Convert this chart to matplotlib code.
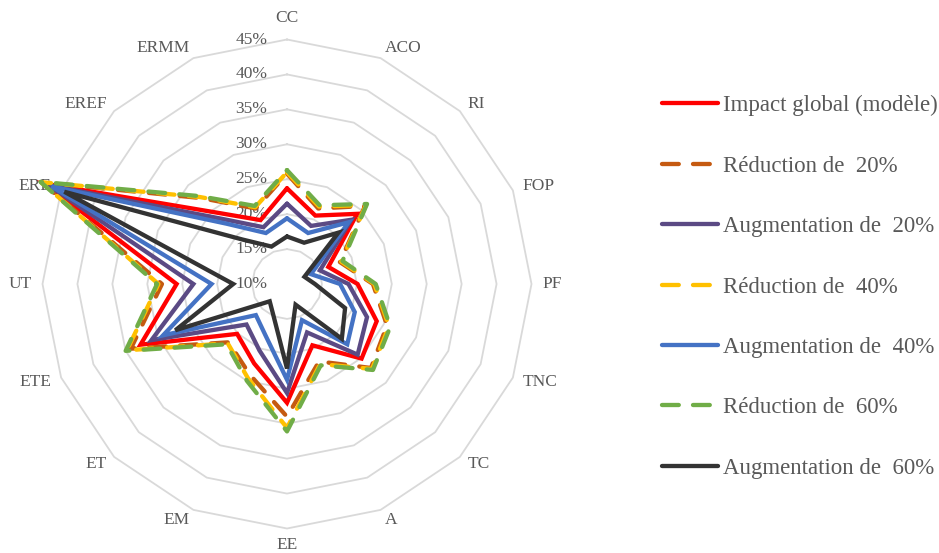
import numpy as np
import matplotlib
matplotlib.use("Agg")
import matplotlib.pyplot as plt

plt.rcParams['font.family'] = ['Liberation Serif', 'DejaVu Serif']

categories = ["CC", "ACO", "RI", "FOP", "PF", "TNC", "TC", "A", "EE",
              "EM", "ET", "ETE", "UT", "ERE", "EREF", "ERMM"]

impact = [23.7, 20.6, 24.2, 16.4, 20.1, 23.9, 25.1, 19.5, 27.0, 22.3, 20.1, 32.7, 25.8, 47.5, 24.5, 19.9]
red20 = [25.8, 21.7, 25.8, 18.2, 22.3, 25.5, 27.0, 22.0, 29.0, 24.0, 21.8, 34.2, 27.9, 48.0, 27.4, 21.7]
aug20 = [21.5, 19.0, 23.0, 15.1, 18.8, 22.4, 24.3, 17.5, 25.6, 20.3, 18.2, 31.0, 23.4, 47.0, 23.2, 18.8]
red40 = [26.0, 22.0, 26.0, 18.4, 22.5, 25.8, 27.2, 22.4, 30.6, 24.6, 22.0, 34.8, 28.4, 48.1, 27.6, 21.9]
aug40 = [19.4, 17.9, 22.5, 13.7, 17.6, 20.5, 22.2, 15.6, 23.7, 18.0, 16.3, 29.2, 20.8, 46.5, 22.2, 17.9]
red60 = [26.3, 22.2, 26.2, 18.6, 22.7, 26.0, 27.4, 22.6, 31.1, 25.0, 22.2, 35.0, 28.6, 48.2, 27.8, 22.1]
aug60 = [16.8, 16.4, 20.4, 12.7, 14.0, 19.0, 21.1, 13.2, 22.1, 15.0, 13.5, 27.3, 17.7, 44.5, 19.0, 15.8]

series_labels = ["Impact global (modèle)", "Réduction de  20%", "Augmentation de  20%",
                 "Réduction de  40%", "Augmentation de  40%", "Réduction de  60%",
                 "Augmentation de  60%"]
series_values = [impact, red20, aug20, red40, aug40, red60, aug60]
series_colors = ["#FF0000", "#C55A11", "#5B4A84", "#FFC000", "#4472C4", "#70AD47", "#333333"]
series_dashed = [False, True, False, True, False, True, False]

radial_ticks = [10, 15, 20, 25, 30, 35, 40, 45]
radial_labels = ["10%", "15%", "20%", "25%", "30%", "35%", "40%", "45%"]

W, H = 939, 553
fig = plt.figure(figsize=(W / 100, H / 100), dpi=100)
cx, cy, R = 287, 284, 244.5
ax = fig.add_axes([(cx - R) / W, (H - cy - R) / H, 2 * R / W, 2 * R / H], projection='polar')
ax.set_theta_offset(np.pi / 2)
ax.set_theta_direction(-1)
ax.set_ylim(radial_ticks[0], radial_ticks[-1])
ax.grid(False)
ax.set_xticks([])
ax.set_yticks([])
ax.spines['polar'].set_visible(False)
ax.patch.set_visible(False)

n = len(categories)
theta = np.arange(n) * 2 * np.pi / n
theta_c = np.append(theta, theta[0])

# polygon grid
for v in radial_ticks[1:]:
    ax.plot(theta_c, [v] * (n + 1), color="#D9D9D9", lw=1.3, zorder=0, clip_on=False)

# radial labels
for v, lab in zip(radial_ticks, radial_labels):
    ax.annotate(lab, xy=(0, v), xytext=(-14, 0), textcoords='offset points',
                ha='right', va='center', fontsize=12.5, color="#595959",
                annotation_clip=False, zorder=1)

# category labels (Excel-like anchoring: aligned by side)
for t, c in zip(theta, categories):
    s, co = np.sin(t), np.cos(t)
    if abs(s) < 0.01:
        ha = 'center'
        va = 'bottom' if co > 0 else 'top'
        r_lab = 46.9 if co > 0 else 46.2
    else:
        ha = 'left' if s > 0 else 'right'
        va = 'center'
        r_lab = 46.5
    ax.text(t, r_lab, c, ha=ha, va=va, fontsize=12.5, color="#595959",
            zorder=1, clip_on=False)

handles = []
for vals, lab, col, dashed in zip(series_values, series_labels, series_colors, series_dashed):
    vv = np.append(vals, vals[0])
    if dashed:
        ln, = ax.plot(theta_c, vv, color=col, lw=3.1, linestyle=(0, (3.9, 3.3)),
                      dash_capstyle='round', solid_joinstyle='round',
                      clip_on=False, label=lab, zorder=3)
    else:
        ln, = ax.plot(theta_c, vv, color=col, lw=3.1, solid_joinstyle='miter',
                      solid_capstyle='round', clip_on=False, label=lab, zorder=3)
    handles.append(ln)

leg = fig.legend(handles=handles, loc='upper left', bbox_to_anchor=(662 / W, 1 - 95 / H),
                 frameon=False, fontsize=16.5, handlelength=2.45, handletextpad=0.2,
                 labelspacing=1.72, borderpad=0, borderaxespad=0)
for txt in leg.get_texts():
    txt.set_color("#595959")

fig.savefig("out.png", dpi=100)
